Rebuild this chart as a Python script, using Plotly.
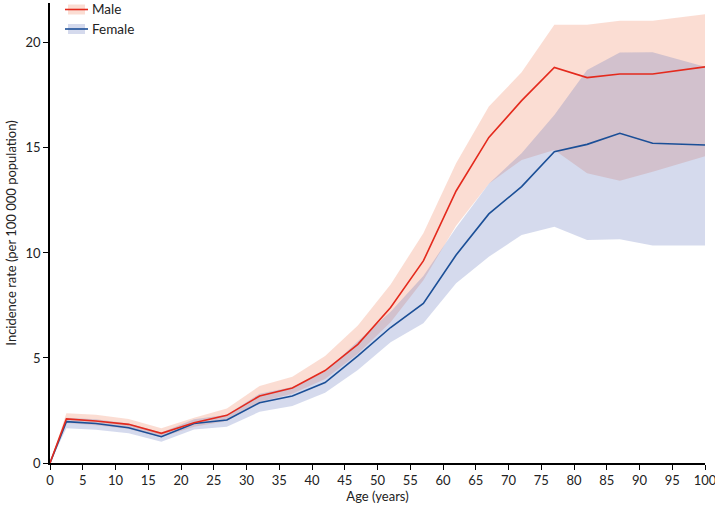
import plotly.graph_objects as go

# Données : taux d'incidence (pour 100 000) par âge
ages = [0, 2.5, 7, 12, 17, 22, 27, 32, 37, 42, 47, 52, 57, 62, 67, 72, 77, 82, 87, 92, 100]

male_rate = [0, 2.1, 2.0, 1.84, 1.41, 1.92, 2.27, 3.19, 3.57, 4.4, 5.65, 7.4, 9.62,
             12.95, 15.5, 17.25, 18.83, 18.35, 18.52, 18.52, 18.86]
male_upper = [0, 2.37, 2.3, 2.1, 1.65, 2.15, 2.6, 3.67, 4.11, 5.1, 6.55, 8.5, 10.94,
              14.27, 16.97, 18.6, 20.86, 20.86, 21.05, 21.05, 21.37]
male_lower = [0, 1.9, 1.8, 1.62, 1.22, 1.72, 2.0, 2.9, 3.3, 4.0, 5.2, 6.7, 8.7,
              11.3, 13.3, 14.43, 14.9, 13.8, 13.44, 13.87, 14.6]

female_rate = [0, 1.97, 1.88, 1.68, 1.25, 1.88, 2.05, 2.87, 3.19, 3.83, 5.1, 6.45, 7.6,
               9.9, 11.86, 13.16, 14.82, 15.17, 15.7, 15.22, 15.14]
female_upper = [0, 2.15, 2.08, 1.88, 1.45, 2.08, 2.3, 3.3, 3.62, 4.35, 5.8, 7.2, 8.9,
                11.2, 13.3, 14.75, 16.57, 18.71, 19.54, 19.56, 18.87]
female_lower = [0, 1.65, 1.58, 1.42, 1.01, 1.6, 1.73, 2.44, 2.71, 3.35, 4.43, 5.75, 6.65,
                8.56, 9.82, 10.86, 11.25, 10.62, 10.65, 10.35, 10.35]

legend_labels = ["Male", "Female"]

# Couleurs
RED = "#e42a1d"
BLUE = "#1b4f97"
PINK = "rgba(240,120,80,0.25)"
LAVENDER = "rgba(100,120,190,0.27)"

FONT = "Lato"

fig = go.Figure()

# Intervalles (hommes puis femmes)
fig.add_trace(go.Scatter(x=ages, y=male_lower, mode="lines", line=dict(width=0),
                         showlegend=False, hoverinfo="skip"))
fig.add_trace(go.Scatter(x=ages, y=male_upper, mode="lines", line=dict(width=0),
                         fill="tonexty", fillcolor=PINK, showlegend=False, hoverinfo="skip"))
fig.add_trace(go.Scatter(x=ages, y=female_lower, mode="lines", line=dict(width=0),
                         showlegend=False, hoverinfo="skip"))
fig.add_trace(go.Scatter(x=ages, y=female_upper, mode="lines", line=dict(width=0),
                         fill="tonexty", fillcolor=LAVENDER, showlegend=False, hoverinfo="skip"))

# Courbes centrales
fig.add_trace(go.Scatter(x=ages, y=female_rate, mode="lines", name="Female",
                         line=dict(color=BLUE, width=1.6), showlegend=False))
fig.add_trace(go.Scatter(x=ages, y=male_rate, mode="lines", name="Male",
                         line=dict(color=RED, width=1.6), showlegend=False))

# Légende dessinée à la main (boîte + trait)
for i, (label, lc, fc) in enumerate(zip(legend_labels, [RED, BLUE], [PINK, LAVENDER])):
    yc = 6.5 + i * 19.5
    fig.add_shape(type="rect", xref="paper", yref="paper",
                  x0=(68 - 50) / 655, x1=(85 - 50) / 655,
                  y0=(460 - yc - 5) / 460, y1=(460 - yc + 5) / 460,
                  fillcolor=fc, line=dict(width=0), layer="above")
    fig.add_shape(type="line", xref="paper", yref="paper",
                  x0=(65 - 50) / 655, x1=(88 - 50) / 655,
                  y0=(460 - yc) / 460, y1=(460 - yc) / 460,
                  line=dict(color=lc, width=1.6), layer="above")
    fig.add_annotation(xref="paper", yref="paper", x=(90 - 50) / 655, y=(460 - yc) / 460,
                       text=label, showarrow=False, xanchor="left", yanchor="middle",
                       font=dict(family=FONT, size=13.5, color="#222"))

fig.update_layout(
    width=715, height=507,
    margin=dict(l=50, r=10, t=3, b=44),
    plot_bgcolor="white", paper_bgcolor="white",
    font=dict(family=FONT, size=13, color="#222"),
    showlegend=False,
)

fig.update_xaxes(
    range=[0, 100], tickmode="linear", tick0=0, dtick=5,
    showgrid=False, zeroline=False, automargin=False,
    showline=True, linecolor="black", linewidth=1.5,
    ticks="outside", ticklen=5, tickwidth=1.2, tickcolor="black",
    ticklabeloverflow="allow",
    title=dict(text="Age (years)", font=dict(size=13), standoff=2),
)
fig.update_yaxes(
    range=[0, 21.9], tickmode="linear", tick0=0, dtick=5,
    showgrid=False, zeroline=False, automargin=False,
    showline=True, linecolor="black", linewidth=1.5,
    ticks="outside", ticklen=5, tickwidth=1.2, tickcolor="black",
    title=dict(text="Incidence rate (per 100 000 population)", font=dict(size=13), standoff=6),
)

# Retirer la marge du body pour que la figure commence en (0, 0)
fig.write_html("out.html", config={"displayModeBar": False},
               post_script="document.body.style.margin='0';")
